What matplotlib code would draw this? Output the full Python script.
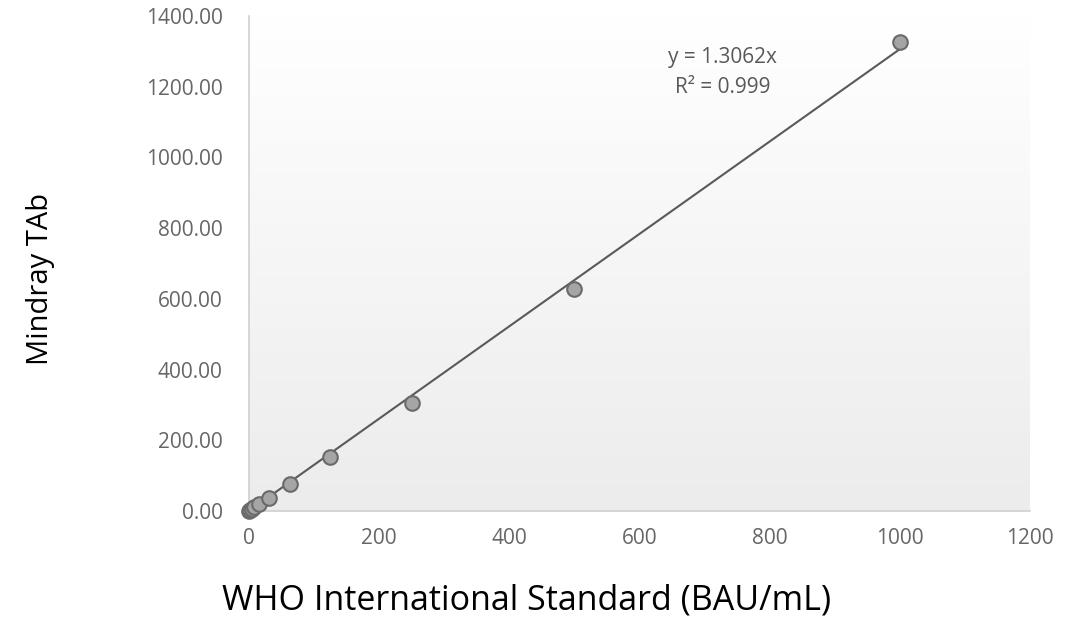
import numpy as np
import matplotlib.pyplot as plt
from matplotlib.colors import LinearSegmentedColormap

plt.rcParams['font.family'] = ['Open Sans', 'DejaVu Sans']

# data
who_std = [0, 1.95, 3.9, 7.8, 15.6, 31.25, 62.5, 125, 250, 500, 1000]
mindray = [1, 3, 6, 10, 20, 37, 76, 153, 305, 628, 1326]
slope = 1.3062
r2 = 0.999

fig = plt.figure(figsize=(10.86, 6.2), dpi=100)
ax = fig.add_axes([0.2293, 0.1758, 0.7191, 0.7984])

# vertical gradient background (white top -> light gray bottom)
grad = np.linspace(1, 0, 256).reshape(-1, 1)
cmap = LinearSegmentedColormap.from_list('g', ['#ececec', '#ffffff'])
ax.imshow(grad, extent=[0, 1, 0, 1], transform=ax.transAxes, aspect='auto',
          cmap=cmap, zorder=0)

xfit = np.array([0, 1000])
ax.plot(xfit, slope * xfit, color='#595959', lw=1.5, zorder=2)
ax.scatter(who_std, mindray, s=110, facecolor='#a5a5a5', edgecolor='#6a6a6a',
           linewidth=1.5, zorder=3, clip_on=False)

ax.text(728, 1284, f'y = {slope}x', ha='center', va='center', fontsize=15,
        color='#595959')
ax.text(728, 1199, f'R² = {r2}', ha='center', va='center', fontsize=15,
        color='#595959')

ax.set_xlim(0, 1200)
ax.set_ylim(0, 1400)
ax.set_xticks(range(0, 1201, 200))
ax.set_yticks(range(0, 1401, 200))
ax.set_yticklabels([f'{v:.2f}' for v in range(0, 1401, 200)])
ax.tick_params(length=0, labelsize=15, colors='#666666')
ax.tick_params(axis='y', pad=19)
ax.tick_params(axis='x', pad=12)

for s in ['top', 'right']:
    ax.spines[s].set_visible(False)
for s in ['left', 'bottom']:
    ax.spines[s].set_color('#d0d0d0')
    ax.spines[s].set_linewidth(1.2)

fig.text(0.485, 0.031, 'WHO International Standard (BAU/mL)', ha='center', va='center', fontsize=24.5)
fig.text(0.037, 0.55, 'Mindray TAb', ha='center', va='center', fontsize=21, rotation=90)

fig.savefig('out.png', dpi=100)
